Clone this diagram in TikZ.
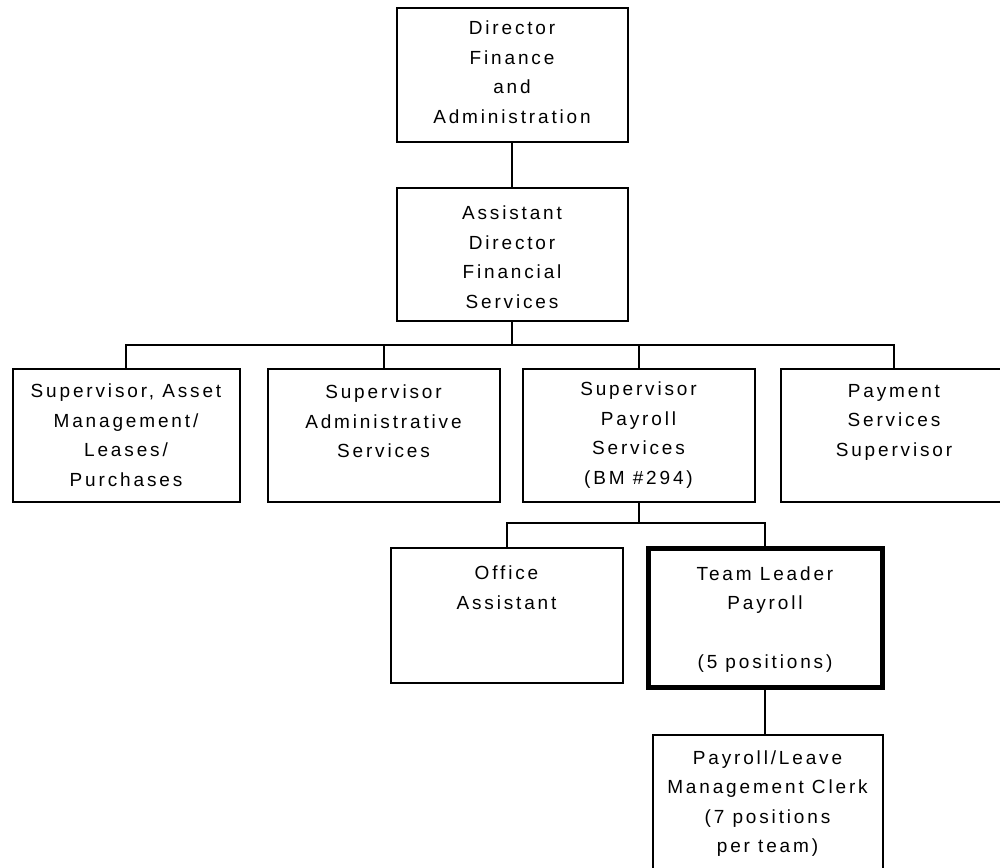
\documentclass[tikz,border=0pt]{standalone}
\usepackage{fontspec}
\newfontfamily\chartfont[LetterSpace=15]{Liberation Sans}
\begin{document}
\begin{tikzpicture}[x=1pt,y=-1pt,
  box/.style={draw=black, line width=2pt, inner sep=0pt, outer sep=0pt, fill=white},
  thickbox/.style={box, line width=5pt},
  label/.style={anchor=north, inner sep=0pt, align=center,
    font=\chartfont\fontsize{19}{29.5}\selectfont},
  conn/.style={line width=2pt}]
\fill[white] (0,0) rectangle (1000,867);
\useasboundingbox (0,0) rectangle (1000,867);
\clip (0,0) rectangle (1000,867);
% boxes
\node[box, minimum width=231pt, minimum height=133pt] (b1) at (512,75) {};
\node[box, minimum width=231pt, minimum height=133pt] (b2) at (512,254) {};
\node[box, minimum width=227pt, minimum height=133pt] (b3) at (126,435) {};
\node[box, minimum width=232pt, minimum height=133pt] (b4) at (383.5,435) {};
\node[box, minimum width=232pt, minimum height=133pt] (b5) at (638.5,435) {};
\node[box, minimum width=227pt, minimum height=133pt] (b6) at (894,435) {};
\node[box, minimum width=232pt, minimum height=135pt] (b7) at (506.5,615) {};
\node[thickbox, minimum width=234pt, minimum height=139pt] (b8) at (765,617.5) {};
\node[box, minimum width=230pt, minimum height=150pt] (b9) at (767.5,810) {};
% texts
\node[label] (t1) at ([yshift=-12.5pt]b1.north) {Director\\Finance\\and\\Administration};
\node[label] (t2) at ([yshift=-18.5pt]b2.north) {Assistant\\Director\\Financial\\Services};
\node[label] (t3) at ([yshift=-15.5pt]b3.north) {Supervisor, Asset\\Management/\\Leases/\\Purchases};
\node[label] (t4) at ([yshift=-16.5pt]b4.north) {Supervisor\\Administrative\\Services};
\node[label] (t5) at ([yshift=-13.5pt]b5.north) {Supervisor\\Payroll\\Services\\(BM \#294)};
\node[label] (t6) at ([yshift=-15.5pt]b6.north) {Payment\\Services\\Supervisor};
\node[label] (t7) at ([yshift=-18.5pt]b7.north) {Office\\Assistant};
\node[label] (t8) at ([yshift=-18.5pt]b8.north) {Team Leader\\Payroll\\[29.5pt](5 positions)};
\node[label] (t9) at ([yshift=-15.5pt]b9.north) {Payroll/Leave\\Management Clerk\\(7 positions\\per team)};
% connectors
\coordinate (bus1) at (512,345);
\coordinate (bus2) at (638.5,523);
\draw[conn] (b1.south) -- (b2.north);
\draw[conn] (b2.south) -- (bus1);
\draw[conn] (b3.north) -- (b3.north |- bus1) -- (b6.north |- bus1) -- (b6.north);
\draw[conn] (b4.north) -- (b4.north |- bus1);
\draw[conn] (b5.north) -- (b5.north |- bus1);
\draw[conn] (b5.south) -- (bus2);
\draw[conn] (b7.north) -- (b7.north |- bus2) -- (b8.north |- bus2) -- (b8.north);
\draw[conn] (b8.south) -- (b8.south |- b9.north);
\end{tikzpicture}
\end{document}
